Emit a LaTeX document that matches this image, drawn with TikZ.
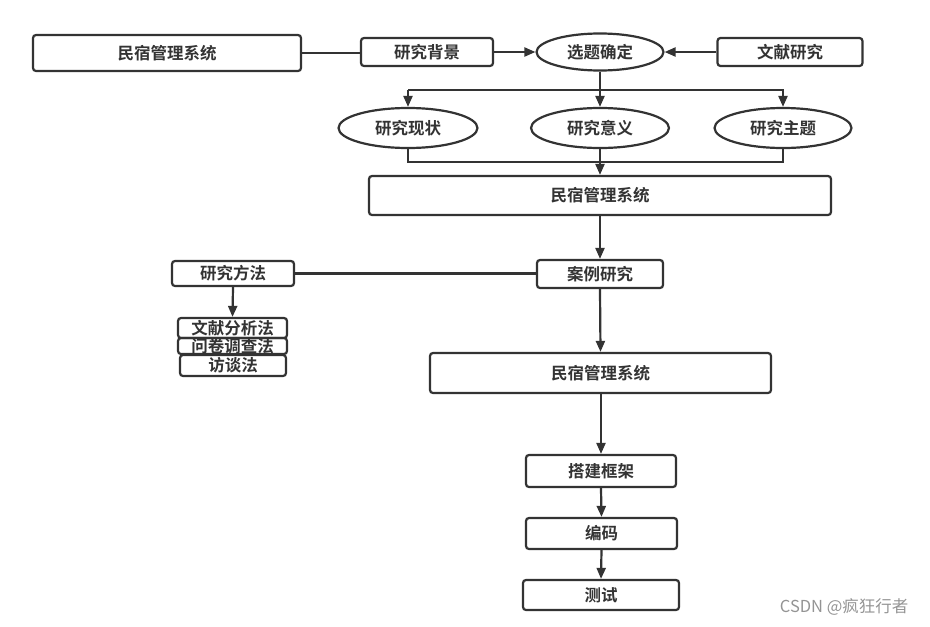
\documentclass[tikz,border=0pt]{standalone}
\usepackage{fontspec}
\newfontfamily\cjk{Noto Sans CJK SC}[BoldFont={* Bold}]
\usetikzlibrary{arrows.meta,shapes.geometric}
\definecolor{ln}{HTML}{333333}
\tikzset{
  box/.style={draw=ln,line width=2.2pt,rounded corners=3pt,inner sep=0pt,font=\cjk\bfseries\fontsize{16.5}{16.5}\selectfont,text=ln},
  ell/.style={draw=ln,line width=2.2pt,ellipse,inner sep=0pt,font=\cjk\bfseries\fontsize{16.5}{16.5}\selectfont,text=ln},
  con/.style={draw=ln,line width=2.2pt},
  arr/.style={con,-{Triangle[length=11pt,width=9pt]}},
}
\begin{document}
\begin{tikzpicture}[x=1pt,y=-1pt]
\useasboundingbox (0,0) rectangle (930,627);
% top row
\node[box,minimum width=268pt,minimum height=36pt] (a) at (167,53) {民宿管理系统};
\node[box,minimum width=132pt,minimum height=28pt] (bg) at (427,52) {研究背景};
\node[ell,minimum width=127pt,minimum height=37pt] (xt) at (600,52) {选题确定};
\node[box,minimum width=145pt,minimum height=28pt] (wx) at (790,52) {文献研究};
\draw[con] (a.east) -- (a.east -| bg.west);
\draw[arr] (bg.east) -- (xt.west);
\draw[arr] (wx.west) -- (xt.east);
% ellipses
\node[ell,minimum width=139pt,minimum height=40pt] (xz) at (408,128) {研究现状};
\node[ell,minimum width=138pt,minimum height=40pt] (yy) at (600,128) {研究意义};
\node[ell,minimum width=137pt,minimum height=40pt] (zt) at (783,128) {研究主题};
\coordinate (t1) at (408,90);
\coordinate (t2) at (783,90);
\draw[arr] (xt.south) -- (yy.north);
\draw[arr] (t1) -- (t2) -- (zt.north);
\draw[arr] (t1) -- (xz.north);
\coordinate (b1) at (408,162);
\coordinate (b2) at (783,162);
\draw[con,line join=miter] (xz.south) -- (b1) -- (b2) -- (zt.south);
\node[box,minimum width=462pt,minimum height=39pt] (m2) at (600,195.5) {民宿管理系统};
\draw[arr] (yy.south) -- (m2.north);
% middle
\node[box,minimum width=126pt,minimum height=28pt] (al) at (600,274) {案例研究};
\draw[arr] (m2.south) -- (al.north);
\node[box,minimum width=122pt,minimum height=25pt] (ff) at (233,273.5) {研究方法};
\draw[con] (ff.east) -- (ff.east -| al.west);
\node[box,minimum width=109pt,minimum height=20pt] (f1) at (232.5,328) {文献分析法};
\node[box,minimum width=109pt,minimum height=16pt] (f2) at (232.5,346) {问卷调查法};
\node[box,minimum width=106pt,minimum height=21pt] (f3) at (233,365.5) {访谈法};
\draw[arr] (ff.south) -- (f1.north);
\node[box,minimum width=341pt,minimum height=40pt] (m3) at (600.5,373) {民宿管理系统};
\draw[arr] (al.south) -- (m3.north);
% bottom chain
\node[box,minimum width=150pt,minimum height=32pt] (dj) at (601,471) {搭建框架};
\node[box,minimum width=151pt,minimum height=31pt] (bm) at (601.5,533.5) {编码};
\node[box,minimum width=156pt,minimum height=30pt] (cs) at (601,595) {测试};
\draw[arr] (m3.south -| dj.north) -- (dj.north);
\draw[arr] (dj.south) -- (bm.north);
\draw[arr] (bm.south) -- (cs.north);
\node[font=\cjk\fontsize{16.5}{16.5}\selectfont,text=black!42,anchor=east] (wm) at (912,607) {CSDN @疯狂行者};
\end{tikzpicture}
\end{document}
